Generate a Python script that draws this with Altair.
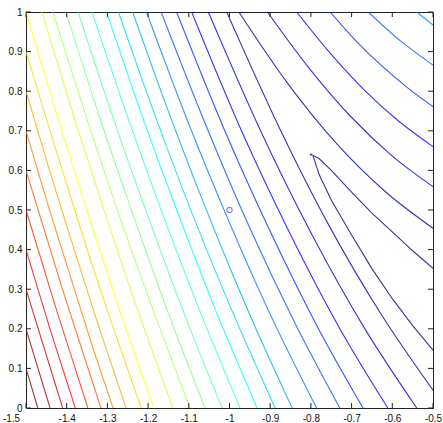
import altair as alt
import pandas as pd

# ---- axis ticks ----
x_ticks = [-1.5, -1.4, -1.3, -1.2, -1.1, -1.0, -0.9, -0.8, -0.7, -0.6, -0.5]
y_ticks = [0.0, 0.1, 0.2, 0.3, 0.4, 0.5, 0.6, 0.7, 0.8, 0.9, 1.0]

# ---- contour level colours (jet, 25 levels, low -> high) ----
levels = list(range(25))
jet_colors = ["#000080", "#0000aa", "#0000d4", "#0000ff", "#002aff", "#0055ff",
              "#0080ff", "#00aaff", "#00d4ff", "#00ffff", "#2affd4", "#55ffaa",
              "#80ff80", "#aaff55", "#d4ff2a", "#ffff00", "#ffd400", "#ffaa00",
              "#ff8000", "#ff5500", "#ff2a00", "#ff0000", "#d40000", "#aa0000",
              "#800000"]

# ---- contour polylines: (level, [(x, y), ...]) ----
c_v = [(-0.5, 0.353), (-0.55, 0.397), (-0.6, 0.445), (-0.65, 0.492), (-0.7, 0.545),
       (-0.75, 0.600), (-0.78, 0.630), (-0.795, 0.638), (-0.78, 0.590), (-0.75, 0.525),
       (-0.7, 0.437), (-0.65, 0.352), (-0.6, 0.276), (-0.55, 0.208), (-0.5, 0.146)]
c1u = [(-0.977, 1.0), (-0.858, 0.821), (-0.739, 0.670), (-0.619, 0.548), (-0.5, 0.454)]
c2u = [(-0.907, 1.0), (-0.805, 0.859), (-0.704, 0.738), (-0.602, 0.638), (-0.5, 0.559)]
c3u = [(-0.835, 1.0), (-0.751, 0.894), (-0.668, 0.802), (-0.584, 0.724), (-0.5, 0.660)]
c4u = [(-0.753, 1.0), (-0.690, 0.928), (-0.627, 0.865), (-0.563, 0.809), (-0.5, 0.761)]
c5u = [(-0.659, 1.0), (-0.580, 0.927), (-0.5, 0.866)]
c6u = [(-0.540, 1.0), (-0.5, 0.967)]
c1 = [(-1.007, 1.0), (-0.880, 0.713), (-0.754, 0.458), (-0.627, 0.236), (-0.5, 0.045)]
c2 = [(-1.052, 1.0), (-0.924, 0.701), (-0.796, 0.435), (-0.668, 0.201), (-0.540, 0.0)]
c3 = [(-1.093, 1.0), (-0.973, 0.706), (-0.852, 0.442), (-0.732, 0.206), (-0.611, 0.0)]
c4 = [(-1.130, 1.0), (-1.016, 0.711), (-0.901, 0.448), (-0.787, 0.211), (-0.672, 0.0)]
c5 = [(-1.168, 1.0), (-1.058, 0.714), (-0.949, 0.452), (-0.839, 0.214), (-0.729, 0.0)]
c6 = [(-1.204, 1.0), (-1.100, 0.717), (-0.995, 0.456), (-0.891, 0.217), (-0.786, 0.0)]
c7 = [(-1.238, 1.0), (-1.140, 0.721), (-1.042, 0.462), (-0.944, 0.221), (-0.846, 0.0)]
c8 = [(-1.273, 1.0), (-1.177, 0.722), (-1.081, 0.463), (-0.984, 0.222), (-0.888, 0.0)]
c9 = [(-1.302, 1.0), (-1.210, 0.724), (-1.117, 0.466), (-1.025, 0.224), (-0.932, 0.0)]
c10 = [(-1.338, 1.0), (-1.247, 0.725), (-1.156, 0.467), (-1.065, 0.225), (-0.974, 0.0)]
c11 = [(-1.372, 1.0), (-1.284, 0.727), (-1.195, 0.469), (-1.107, 0.227), (-1.018, 0.0)]
c12 = [(-1.402, 1.0), (-1.317, 0.728), (-1.231, 0.471), (-1.146, 0.228), (-1.060, 0.0)]
c13 = [(-1.434, 1.0), (-1.350, 0.729), (-1.266, 0.472), (-1.181, 0.229), (-1.097, 0.0)]
c14 = [(-1.461, 1.0), (-1.381, 0.731), (-1.300, 0.474), (-1.220, 0.231), (-1.139, 0.0)]
c15 = [(-1.5, 1.0), (-1.422, 0.732), (-1.343, 0.475), (-1.265, 0.232), (-1.186, 0.0)]
c16 = [(-1.5, 0.9), (-1.429, 0.660), (-1.359, 0.430), (-1.288, 0.210), (-1.217, 0.0)]
c17 = [(-1.5, 0.8), (-1.439, 0.589), (-1.377, 0.385), (-1.316, 0.189), (-1.254, 0.0)]
c18 = [(-1.5, 0.7), (-1.447, 0.516), (-1.393, 0.339), (-1.340, 0.166), (-1.286, 0.0)]
c19 = [(-1.5, 0.6), (-1.408, 0.292), (-1.316, 0.0)]
c20 = [(-1.5, 0.5), (-1.424, 0.244), (-1.348, 0.0)]
c21 = [(-1.5, 0.4), (-1.440, 0.196), (-1.379, 0.0)]
c22 = [(-1.5, 0.3), (-1.410, 0.0)]
c23 = [(-1.5, 0.2), (-1.441, 0.0)]
c24 = [(-1.5, 0.1), (-1.471, 0.0)]

# smooth contours (x increases along each) and the V-shaped one (drawn as a polyline)
contours = [(1, c1u), (2, c2u), (3, c3u), (4, c4u), (5, c5u), (6, c6u),
            (1, c1), (2, c2), (3, c3), (4, c4), (5, c5), (6, c6), (7, c7), (8, c8),
            (9, c9), (10, c10), (11, c11), (12, c12), (13, c13), (14, c14), (15, c15),
            (16, c16), (17, c17), (18, c18), (19, c19), (20, c20), (21, c21),
            (22, c22), (23, c23), (24, c24)]
v_contour = [(0, c_v)]

# ---- markers ----
start_x = [-1.0]
start_y = [0.5]
iter_x = [-0.8]
iter_y = [0.64]


def to_rows(clist):
    rows = []
    for cid, (lev, pts) in enumerate(clist):
        for k, (px, py) in enumerate(pts):
            rows.append({"cid": cid, "level": lev, "ord": k, "x": px, "y": py})
    return pd.DataFrame(rows)


lines_df = to_rows(contours)
v_df = to_rows(v_contour)

W, H = 407, 396
xs = alt.Scale(domain=[-1.5, -0.5], nice=False, zero=False)
ys = alt.Scale(domain=[0, 1], nice=False, zero=False)

lab_expr = "datum.value < 0 ? '-' + format(-datum.value, '~g') : format(datum.value, '~g')"
x_axis = alt.Axis(values=x_ticks, labelExpr=lab_expr, ticks=False, domain=False, grid=False,
                  title=None, labelFont="Liberation Sans", labelFontSize=10, labelColor="#111",
                  labelPadding=5, labelFlush=False, labelOverlap=False,
                  labelOffset={"condition": {"test": "datum.value == -1.5", "value": -15},
                               "value": 0})
y_axis = alt.Axis(values=y_ticks, labelExpr=lab_expr, ticks=False, domain=False, grid=False,
                  title=None, labelFont="Liberation Sans", labelFontSize=10, labelColor="#111",
                  labelPadding=4, labelFlush=False, labelOverlap=False)


def X(field):
    return alt.X(field, type="quantitative", scale=xs, axis=x_axis)


def Y(field):
    return alt.Y(field, type="quantitative", scale=ys, axis=y_axis)


col = alt.Color("level:O", scale=alt.Scale(domain=levels, range=jet_colors), legend=None)

lines = alt.Chart(lines_df).mark_line(strokeWidth=1.1, opacity=0.8, clip=True,
                                      interpolate="monotone").encode(
    x=X("x"), y=Y("y"), detail="cid:N", order="ord:Q", color=col)

vline = alt.Chart(v_df).mark_line(strokeWidth=1.1, opacity=0.8, clip=True).encode(
    x=X("x"), y=Y("y"), detail="cid:N", order="ord:Q", color=col)

start = alt.Chart(pd.DataFrame({"x": start_x, "y": start_y})).mark_point(
    shape="circle", filled=False, color="#2020ff", size=30, strokeWidth=1
).encode(x=X("x"), y=Y("y"))

it = alt.Chart(pd.DataFrame({"x": iter_x, "y": iter_y})).mark_point(
    shape="circle", filled=True, color="#2020c0", size=5, opacity=1
).encode(x=X("x"), y=Y("y"))

xt = pd.DataFrame({"v": x_ticks})
yt = pd.DataFrame({"v": y_ticks})
tick_col = "#222222"
xt_bot = alt.Chart(xt).mark_rule(color=tick_col, strokeWidth=1).encode(
    x=X("v"), y=alt.value(H), y2=alt.value(H - 5))
xt_top = alt.Chart(xt).mark_rule(color=tick_col, strokeWidth=1).encode(
    x=X("v"), y=alt.value(0), y2=alt.value(5))
yt_left = alt.Chart(yt).mark_rule(color=tick_col, strokeWidth=1).encode(
    y=Y("v"), x=alt.value(0), x2=alt.value(5))
yt_right = alt.Chart(yt).mark_rule(color=tick_col, strokeWidth=1).encode(
    y=Y("v"), x=alt.value(W), x2=alt.value(W - 5))

chart = alt.layer(lines, vline, start, it, xt_bot, xt_top, yt_left, yt_right).properties(
    width=W, height=H,
    padding={"left": 26, "top": 12, "right": 10, "bottom": 15},
    autosize=alt.AutoSizeParams(type="none"),
    background="white",
).configure_view(stroke="#222222", strokeWidth=1).configure_axis(labelOverlap=False)

chart.save("out.html", embed_options={"renderer": "svg", "actions": False})
